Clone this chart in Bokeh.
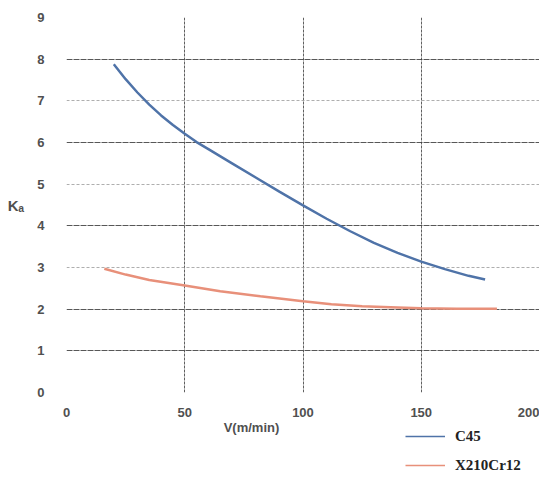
from bokeh.plotting import figure
from bokeh.models import Range1d, FixedTicker, Legend, LegendItem, Label, Grid
from bokeh.layouts import column
from bokeh.embed import file_html
from bokeh.resources import INLINE

# Data
c45_v = [20, 25, 30, 35, 40, 45, 50, 55, 60, 70, 80, 90, 100, 110, 120, 130, 140, 150, 160, 170, 177]
c45_ka = [7.88, 7.52, 7.2, 6.91, 6.65, 6.42, 6.21, 6.01, 5.84, 5.5, 5.16, 4.82, 4.49, 4.17, 3.87, 3.59, 3.35, 3.14, 2.96, 2.8, 2.71]
x210_v = [16, 25, 35, 50, 65, 82, 100, 112, 125, 140, 150, 165, 182]
x210_ka = [2.97, 2.83, 2.7, 2.57, 2.43, 2.31, 2.19, 2.12, 2.07, 2.04, 2.02, 2.01, 2.01]
x_ticks = [0, 50, 100, 150, 200]
y_ticks = [0, 1, 2, 3, 4, 5, 6, 7, 8, 9]
y_dark_grid = [0, 1, 2, 4, 6, 8]
y_light_grid = [3, 5, 7, 9]
x_dark_grid = [50, 100, 150]
x_light_grid = [0, 200]
series_names = ["C45", "X210Cr12"]
series_colors = ["#4f73a8", "#e8907a"]

p = figure(width=539, height=417, frame_width=473, frame_height=375,
           output_backend="svg", toolbar_location=None,
           x_range=Range1d(0, 200), y_range=Range1d(0, 9),
           min_border_left=66, min_border_right=0, min_border_top=17, min_border_bottom=25)
p.outline_line_color = None
p.background_fill_color = "white"

for ax in (p.xaxis[0], p.yaxis[0]):
    ax.axis_line_color = None
    ax.major_tick_line_color = None
    ax.minor_tick_line_color = None
    ax.major_label_text_font = "Liberation Sans"
    ax.major_label_text_font_style = "bold"
    ax.major_label_text_font_size = "13px"
    ax.major_label_text_color = "#505050"
    ax.axis_label_text_font = "Liberation Sans"
    ax.axis_label_text_color = "#505050"
    ax.axis_label_text_font_style = "bold"
p.xaxis.ticker = FixedTicker(ticks=x_ticks)
p.yaxis.ticker = FixedTicker(ticks=y_ticks)
p.xaxis.major_label_standoff = 9
p.yaxis.major_label_standoff = 16
p.yaxis.axis_label = "Kₐ"
p.yaxis.axis_label_orientation = "horizontal"
p.yaxis.axis_label_text_font_size = "15px"
p.yaxis.axis_label_standoff = 10

p.xgrid.ticker = FixedTicker(ticks=x_dark_grid)
p.xgrid.grid_line_color = "#444444"
p.xgrid.grid_line_dash = "3 1"
p.xgrid.grid_line_alpha = 0.85
p.ygrid.ticker = FixedTicker(ticks=y_dark_grid)
p.ygrid.grid_line_color = "#3a3a3a"
p.ygrid.grid_line_alpha = 0.85
p.ygrid.grid_line_dash = "6 1"
p.add_layout(Grid(dimension=1, ticker=FixedTicker(ticks=y_light_grid),
                  grid_line_color="#9a9a9a", grid_line_dash="3 2", grid_line_alpha=0.8))
p.add_layout(Grid(dimension=0, ticker=FixedTicker(ticks=x_light_grid),
                  grid_line_color="#888888", grid_line_dash="2 2", grid_line_alpha=0.8))

r1 = p.line(c45_v, c45_ka, line_color=series_colors[0], line_width=2.5)
r2 = p.line(x210_v, x210_ka, line_color=series_colors[1], line_width=2.5)

# lower strip: x-axis title and legend (its frame is aligned with the main frame)
p2 = figure(width=539, height=66, output_backend="svg", toolbar_location=None,
            x_range=Range1d(0, 1), y_range=Range1d(0, 1),
            min_border=0, min_border_left=0, min_border_right=0,
            min_border_top=0, min_border_bottom=0)
p2.axis.visible = False
p2.grid.visible = False
p2.outline_line_color = None
l1 = p2.line(c45_v[:1], c45_ka[:1], line_color=series_colors[0], line_width=1.6)
l2 = p2.line(x210_v[:1], x210_ka[:1], line_color=series_colors[1], line_width=1.6)

p2.add_layout(Label(x=185, y=58, x_units="screen", y_units="screen", text="V(m/min)",
                    text_font="Liberation Sans", text_font_style="bold", text_font_size="13px",
                    text_color="#505050", text_align="center", text_baseline="middle"))

legend = Legend(items=[LegendItem(label=series_names[0], renderers=[l1]),
                       LegendItem(label=series_names[1], renderers=[l2])],
                location=(339, 10))
legend.label_text_font = "Liberation Serif"
legend.label_text_font_style = "bold"
legend.label_text_font_size = "15px"
legend.label_text_color = "#222222"
legend.glyph_width = 40
legend.glyph_height = 20
legend.label_height = 20
legend.spacing = 9
legend.label_standoff = 10
legend.border_line_color = None
legend.background_fill_alpha = 0
legend.padding = 0
legend.margin = 0
p2.add_layout(legend, "center")

open("out.html", "w").write(file_html(column(p, p2, spacing=0), INLINE))
